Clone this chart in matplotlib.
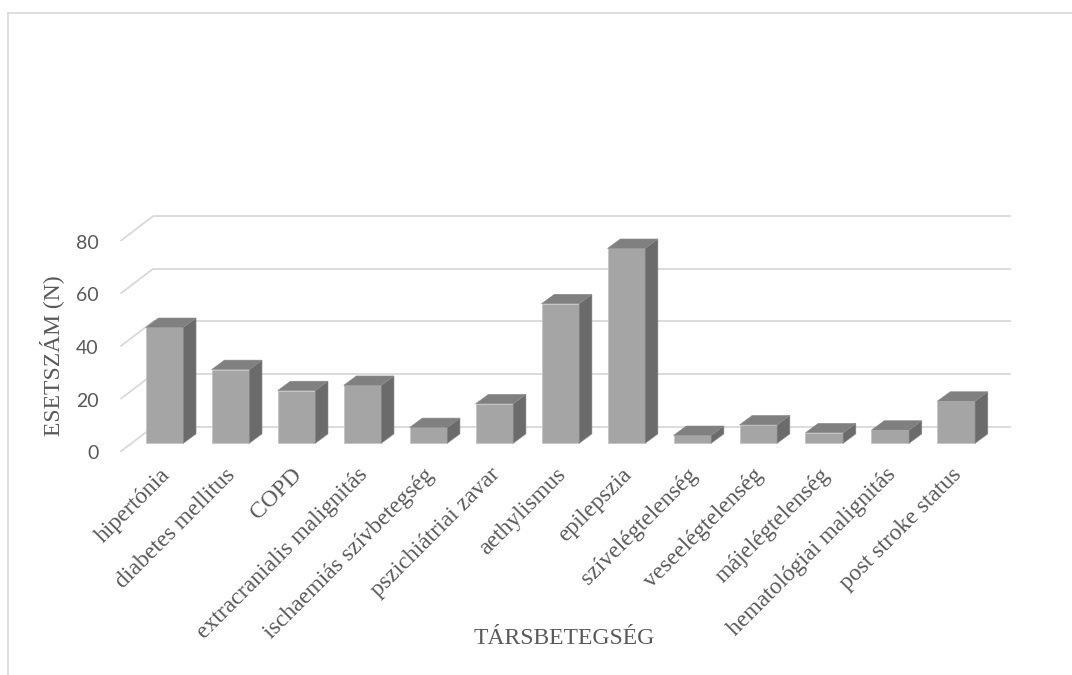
import matplotlib
matplotlib.use("Agg")
from matplotlib import pyplot as plt
from matplotlib.patches import Polygon
from matplotlib.lines import Line2D

# adatok
categories = ["hipertónia", "diabetes mellitus", "COPD", "extracranialis malignitás",
              "ischaemiás szívbetegség", "pszichiátriai zavar", "aethylismus", "epilepszia",
              "szívelégtelenség", "veseelégtelenség", "májelégtelenség",
              "hematológiai malignitás", "post stroke status"]
values = [44, 28, 20, 22, 6, 15, 53, 74, 3, 7, 4, 5, 16]
yticks = [0, 20, 40, 60, 80]

# "3D" geometry in data units (oblique projection like Excel)
W = 0.57                 # bar width
BAR_DX, BAR_DY = 0.193, 3.57
FRONT_X, FRONT_Y = -0.168, -3.2
BACK_X, BACK_Y = 0.33, 6.3

GRID = "#D9D9D9"
TXT = "#595959"

fig = plt.figure(figsize=(10.72, 6.75), dpi=100)
ax = fig.add_axes([0, 0, 1, 1])
ax.axis("off")
ax.set_xlim(-164.5 / 65.98, (1072 - 164.5) / 65.98)
ax.set_ylim((443.3 - 675) / 2.634, 443.3 / 2.634)

n = len(categories)
x = list(range(n))

# gridlines: back wall + side diagonals
for v in yticks:
    ax.plot([-0.5 + FRONT_X, -0.5 + BACK_X], [v + FRONT_Y, v + BACK_Y],
            color=GRID, lw=1.3, zorder=1, solid_capstyle="butt")
    ax.plot([-0.5 + BACK_X, n - 0.5 + BACK_X], [v + BACK_Y, v + BACK_Y],
            color=GRID, lw=1.3, zorder=1, solid_capstyle="butt")
    ax.text(-0.5 + FRONT_X - 0.33, v + FRONT_Y - 0.8, str(v), ha="right", va="center",
            family="Lato", fontsize=14, color=TXT)

# bars
ax.bar(x, values, width=W, color="#A5A5A5", edgecolor="#C4C4C4", lw=0.6, zorder=3)
for xi, v in zip(x, values):
    r = xi + W / 2
    l = xi - W / 2
    side = Polygon([(r, 0), (r + BAR_DX, BAR_DY), (r + BAR_DX, v + BAR_DY), (r, v)],
                   closed=True, facecolor="#6B6B6B", edgecolor="#8A8A8A", lw=0.4, zorder=3)
    top = Polygon([(l, v), (r, v), (r + BAR_DX, v + BAR_DY), (l + BAR_DX, v + BAR_DY)],
                  closed=True, facecolor="#808080", edgecolor="#8A8A8A", lw=0.4, zorder=3)
    ax.add_patch(side)
    ax.add_patch(top)

# category labels
for xi, name in zip(x, categories):
    ax.text(xi - 0.08, -8, name, rotation=45, ha="right", va="top", rotation_mode="anchor",
            family="Liberation Serif", fontsize=17, color=TXT)

fig.text(52 / 1072, 1 - 356 / 675, "ESETSZÁM (N)", rotation=90, ha="center", va="center",
         family="Liberation Serif", fontsize=17, color=TXT)
fig.text(564 / 1072, 1 - 638 / 675, "TÁRSBETEGSÉG", ha="center", va="center",
         family="Liberation Serif", fontsize=17, color=TXT)

# chart border (only left and top visible)
fig.add_artist(Line2D([8 / 1072, 8 / 1072], [0, 1 - 13 / 675], transform=fig.transFigure,
                      color=GRID, lw=1.2))
fig.add_artist(Line2D([8 / 1072, 1], [1 - 13 / 675, 1 - 13 / 675], transform=fig.transFigure,
                      color=GRID, lw=1.2))

fig.savefig("out.png", dpi=100, facecolor="white")
